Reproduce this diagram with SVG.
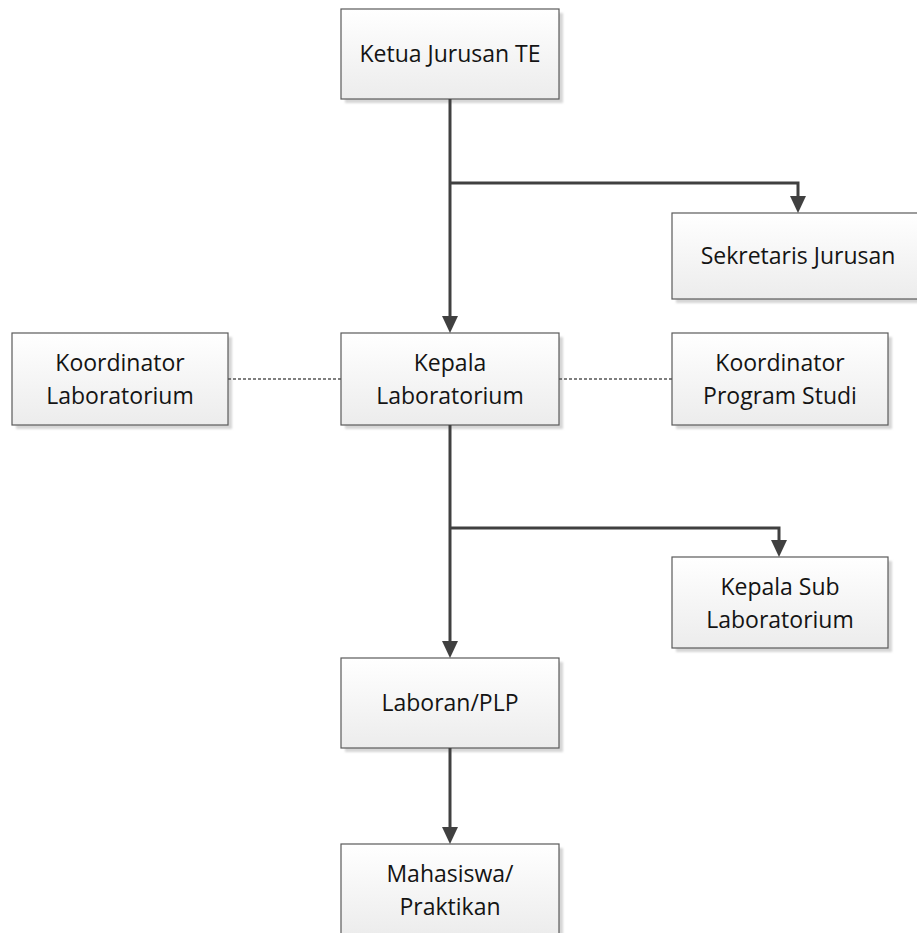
<svg xmlns="http://www.w3.org/2000/svg" width="917" height="933" viewBox="0 0 917 933">
  <defs>
    <linearGradient id="boxFill" x1="0" y1="0" x2="0" y2="1">
      <stop offset="0" stop-color="#ffffff"/>
      <stop offset="1" stop-color="#ececec"/>
    </linearGradient>
    <filter id="soft" x="-10%" y="-10%" width="130%" height="130%">
      <feGaussianBlur stdDeviation="1"/>
    </filter>
    <marker id="arrow" viewBox="0 0 17 16" refX="9" refY="8" markerWidth="17" markerHeight="16" markerUnits="userSpaceOnUse" orient="auto">
      <path d="M0,0 L17,8 L0,16 z" fill="#404040"/>
    </marker>
  </defs>
  <style>
    .shadow { fill: #d6d6d6; filter: url(#soft); }
    .box { fill: url(#boxFill); stroke: #5a5a5a; stroke-width: 1.2; }
    .label { font-family: "Open Sans", "Noto Sans", sans-serif; font-size: 23px; fill: #141414; text-anchor: middle; }
    .link { fill: none; stroke: #404040; stroke-width: 3; marker-end: url(#arrow); }
    .peer { fill: none; stroke: #555555; stroke-width: 1.5; stroke-dasharray: 3 2; }
  </style>

  <rect width="917" height="933" fill="#ffffff"/>

  <g id="ketua-jurusan">
    <rect class="shadow" x="345" y="13" width="218" height="90"/>
    <rect class="box" x="341" y="9" width="218" height="90"/>
    <text class="label" x="450" y="62">Ketua Jurusan TE</text>
  </g>

  <g id="sekretaris-jurusan">
    <rect class="shadow" x="676" y="217" width="252" height="86"/>
    <rect class="box" x="672" y="213" width="252" height="86"/>
    <text class="label" x="798" y="264">Sekretaris Jurusan</text>
  </g>

  <g id="koordinator-laboratorium">
    <rect class="shadow" x="16" y="337" width="216" height="92"/>
    <rect class="box" x="12" y="333" width="216" height="92"/>
    <text class="label" x="120" y="371">Koordinator</text>
    <text class="label" x="120" y="404">Laboratorium</text>
  </g>

  <g id="kepala-laboratorium">
    <rect class="shadow" x="345" y="337" width="218" height="92"/>
    <rect class="box" x="341" y="333" width="218" height="92"/>
    <text class="label" x="450" y="371">Kepala</text>
    <text class="label" x="450" y="404">Laboratorium</text>
  </g>

  <g id="koordinator-program-studi">
    <rect class="shadow" x="676" y="337" width="216" height="92"/>
    <rect class="box" x="672" y="333" width="216" height="92"/>
    <text class="label" x="780" y="371">Koordinator</text>
    <text class="label" x="780" y="404">Program Studi</text>
  </g>

  <g id="kepala-sub-laboratorium">
    <rect class="shadow" x="676" y="561" width="216" height="91"/>
    <rect class="box" x="672" y="557" width="216" height="91"/>
    <text class="label" x="780" y="595">Kepala Sub</text>
    <text class="label" x="780" y="628">Laboratorium</text>
  </g>

  <g id="laboran-plp">
    <rect class="shadow" x="345" y="662" width="218" height="90"/>
    <rect class="box" x="341" y="658" width="218" height="90"/>
    <text class="label" x="450" y="711">Laboran/PLP</text>
  </g>

  <g id="mahasiswa-praktikan">
    <rect class="shadow" x="345" y="848" width="218" height="92"/>
    <rect class="box" x="341" y="844" width="218" height="92"/>
    <text class="label" x="450" y="882">Mahasiswa/</text>
    <text class="label" x="450" y="915">Praktikan</text>
  </g>

  <g id="connectors">
    <path class="link" d="M450,99 V325"/>
    <path class="link" d="M450,183 H798 V205"/>
    <path class="link" d="M450,425 V650"/>
    <path class="link" d="M450,528 H779 V549"/>
    <path class="link" d="M450,748 V836"/>
    <path class="peer" d="M228,379 H341"/>
    <path class="peer" d="M559,379 H672"/>
  </g>
</svg>
